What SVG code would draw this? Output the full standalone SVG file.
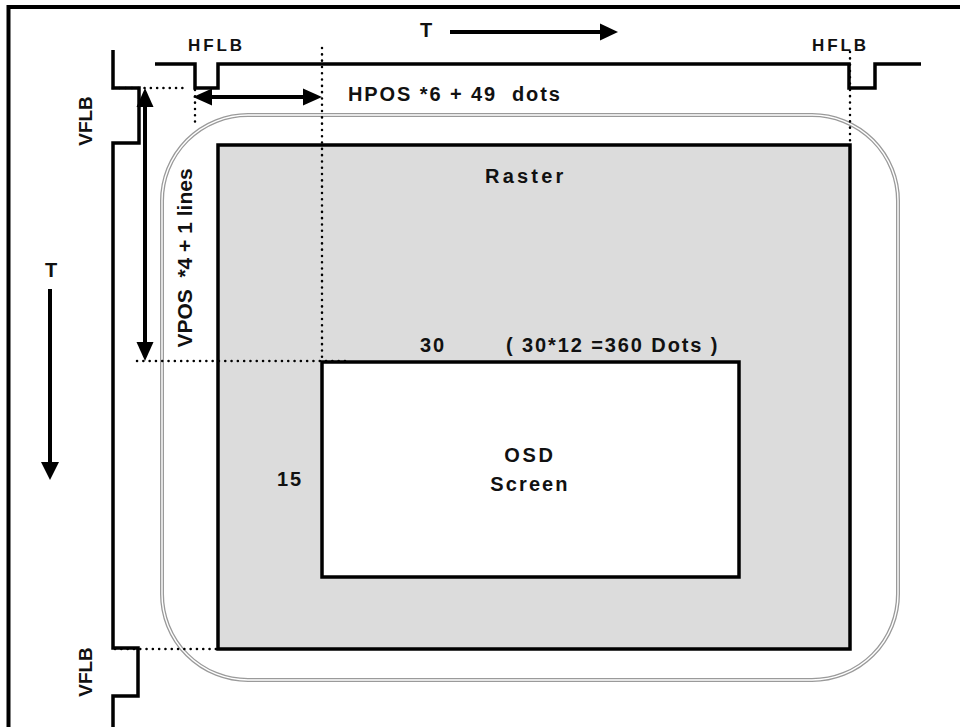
<svg xmlns="http://www.w3.org/2000/svg" width="960" height="727" viewBox="0 0 960 727">
<style>
.t{font-family:"Liberation Sans",Arial,sans-serif;font-weight:bold;fill:#111;}
.w{fill:none;stroke:#000;stroke-width:3.5;stroke-linejoin:miter;}
.dot{fill:none;stroke:#000;stroke-width:2.5;stroke-linecap:round;stroke-dasharray:0.1 6.2;}
.ar{fill:none;stroke:#000;stroke-width:4;}
.hd{fill:#000;}
</style>
<rect width="960" height="727" fill="#fff"/>
<g id="frame">
<path d="M8.5 727 V7 H960" fill="none" stroke="#000" stroke-width="4"/>
</g>
<g id="screen-outline">
<rect x="162" y="115" width="736" height="565" rx="86" ry="86" fill="none" stroke="#9a9a9a" stroke-width="4"/>
<rect x="162" y="115" width="736" height="565" rx="86" ry="86" fill="none" stroke="#fff" stroke-width="1.4"/>
</g>
<g id="raster">
<rect x="218" y="145" width="632" height="504" fill="#dcdcdc" stroke="#000" stroke-width="3.5"/>
<text class="t" x="485" y="183" font-size="20" letter-spacing="3.2">Raster</text>
</g>
<g id="osd">
<rect x="322" y="362" width="417" height="215" fill="#fff" stroke="#000" stroke-width="3.5"/>
<text class="t" x="530" y="462" font-size="20" letter-spacing="2.8" text-anchor="middle">OSD</text>
<text class="t" x="530" y="491" font-size="20" letter-spacing="2.1" text-anchor="middle">Screen</text>
</g>
<g id="waveforms">
<path class="w" d="M155 64 H195 V88 H218 V64 H849 V88 H875 V64 H921"/>
<path class="w" d="M113 50 V88 H139 V143 H113 V648 H138 V696 H113 V727"/>
</g>
<g id="connectors">
<path class="dot" d="M113 88 H183"/>
<path class="dot" d="M195 90 V122"/>
<path class="dot" d="M322 48 V362"/>
<path class="dot" d="M850 52 V143"/>
<path class="dot" d="M137 361 H347"/>
<path class="dot" d="M115 649 H216"/>
<line class="ar" x1="210" y1="97" x2="306" y2="97"/>
<polygon class="hd" points="193,97 212,88.5 212,105.5"/>
<polygon class="hd" points="322,97 303,88.5 303,105.5"/>
<line class="ar" x1="145" y1="104" x2="145" y2="346"/>
<polygon class="hd" points="145,88 136.5,107 153.5,107"/>
<polygon class="hd" points="145,361 136.5,342 153.5,342"/>
<line class="ar" x1="450" y1="32" x2="602" y2="32"/>
<polygon class="hd" points="618,32 600,23.5 600,40.5"/>
<line class="ar" x1="50" y1="289" x2="50" y2="465"/>
<polygon class="hd" points="50,480 41,462 59,462"/>
</g>
<g id="labels">
<text class="t" x="188" y="51" font-size="17" letter-spacing="2.9">HFLB</text>
<text class="t" x="812" y="51" font-size="17" letter-spacing="2.9">HFLB</text>
<text class="t" x="426" y="37" font-size="20" text-anchor="middle">T</text>
<text class="t" x="51" y="277" font-size="20" text-anchor="middle">T</text>
<text class="t" x="348" y="101" font-size="20" letter-spacing="1.9" xml:space="preserve">HPOS *6 + 49  dots</text>
<text class="t" font-size="19" text-anchor="middle" transform="translate(92,121) rotate(-90)">VFLB</text>
<text class="t" font-size="19" text-anchor="middle" transform="translate(92,672) rotate(-90)">VFLB</text>
<text class="t" font-size="21" text-anchor="middle" xml:space="preserve" transform="translate(192,258) rotate(-90)">VPOS  *4 + 1 lines</text>
<text class="t" x="420" y="352" font-size="20" letter-spacing="1.8">30</text>
<text class="t" x="506" y="352" font-size="20" letter-spacing="1.9" xml:space="preserve">( 30*12 =360 Dots )</text>
<text class="t" x="277" y="486" font-size="20" letter-spacing="1.8">15</text>
</g>
</svg>
